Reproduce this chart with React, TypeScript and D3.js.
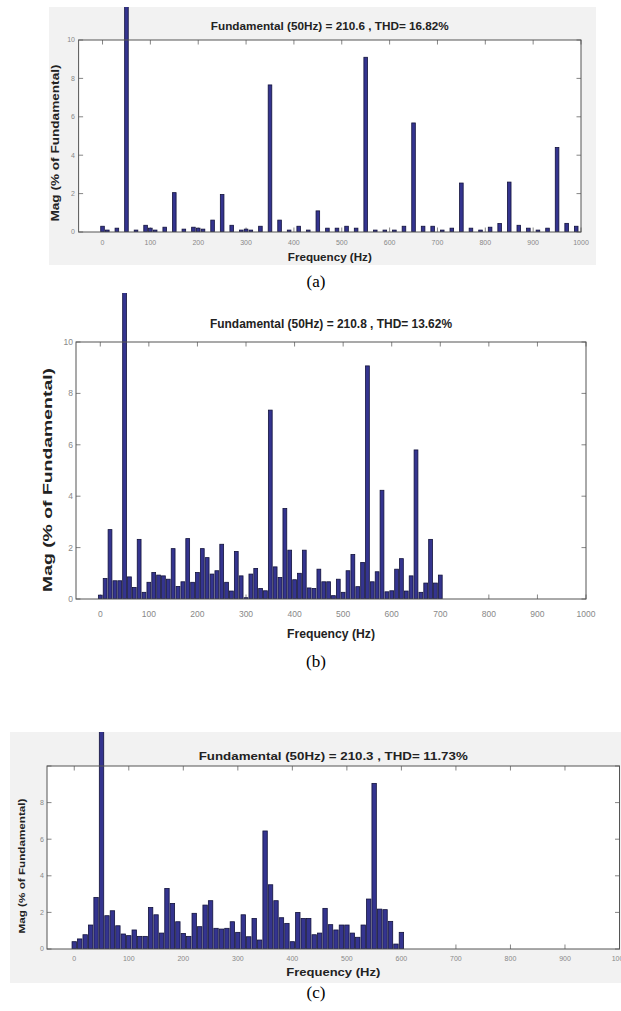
import React from "react";
import * as d3 from "d3";

// (a) sparse spectrum: only the visible 10 Hz bins
const freqA = [0, 10, 30, 50, 70, 90, 100, 110, 130, 150, 170, 190, 200, 210, 230, 250, 270, 290, 300, 310, 330, 350, 370, 390, 410, 430, 450, 470, 490, 510, 530, 550, 570, 590, 610, 630, 650, 670, 690, 710, 730, 750, 770, 790, 810, 830, 850, 870, 890, 910, 930, 950, 970, 990];
const magA = [0.3, 0.1, 0.2, 100, 0.1, 0.35, 0.2, 0.1, 0.25, 2.05, 0.15, 0.25, 0.2, 0.15, 0.62, 1.95, 0.35, 0.1, 0.15, 0.1, 0.3, 7.66, 0.62, 0.1, 0.3, 0.1, 1.1, 0.2, 0.2, 0.3, 0.2, 9.1, 0.1, 0.1, 0.1, 0.3, 5.68, 0.3, 0.3, 0.1, 0.2, 2.55, 0.2, 0.1, 0.25, 0.44, 2.6, 0.35, 0.2, 0.1, 0.2, 4.4, 0.45, 0.3];

// (b) 0..700 Hz, 10 Hz bins
const freqB = d3.range(0, 710, 10);
const magB = [0.15, 0.8, 2.7, 0.71, 0.71, 100, 0.86, 0.45, 2.32, 0.26,
  0.65, 1.03, 0.93, 0.9, 0.77, 1.96, 0.49, 0.67, 2.35, 0.65,
  1.03, 1.96, 1.61, 0.97, 1.1, 2.13, 0.65, 0.31, 1.85, 0.9,
  0.05, 0.97, 1.19, 0.41, 0.32, 7.35, 1.25, 0.84, 3.52, 1.9,
  0.75, 1.0, 1.9, 0.43, 0.41, 1.16, 0.67, 0.67, 0.13, 0.77,
  0.26, 1.1, 1.73, 0.48, 1.42, 9.07, 0.67, 1.06, 4.23, 0.28,
  0.32, 1.16, 1.57, 0.31, 0.9, 5.8, 0.26, 0.62, 2.32, 0.62,
  0.93];

// (c) 0..600 Hz, 10 Hz bins
const freqC = d3.range(0, 610, 10);
const magC = [0.4, 0.55, 0.78, 1.31, 2.82, 100, 1.82, 2.09, 1.27, 0.82,
  0.73, 1.04, 0.69, 0.69, 2.27, 1.87, 0.87, 3.31, 2.49, 1.49,
  0.85, 0.69, 1.95, 1.22, 2.4, 2.64, 1.13, 1.09, 1.13, 1.49,
  0.91, 1.87, 0.67, 1.67, 0.49, 6.45, 3.51, 2.64, 1.71, 1.4,
  0.4, 2.0, 1.67, 1.67, 0.78, 0.87, 2.22, 1.33, 1.04, 1.31,
  1.31, 0.87, 0.64, 1.31, 2.73, 9.05, 2.18, 2.15, 1.51, 0.27,
  0.91];

const xTicks = d3.range(0, 1100, 100);
const yTicks = [0, 2, 4, 6, 8, 10];

const titles = [
  "Fundamental (50Hz) = 210.6 , THD= 16.82%",
  "Fundamental (50Hz) = 210.8 , THD= 13.62%",
  "Fundamental (50Hz) = 210.3 , THD= 11.73%",
];
const captions = ["(a)", "(b)", "(c)"];

const SANS = "'Liberation Sans', Arial, sans-serif";

const panels = [
  {
    id: "a", freq: freqA, mag: magA, title: titles[0], caption: captions[0],
    bg: { x: 49, y: 7, w: 547, h: 258 },
    ax: { l: 78.6, r: 581, t: 40, b: 232 },
    titleY: 30, titleSize: 10, titleLen: 238,
    xlabY: 261, xlabSize: 10.5, xlabLen: 84,
    ylabX: 59, ylabY: 143, ylabSize: 10, ylabLen: 157,
    tickSize: 7, xTickY: 245, yTickX: 75, showTop: true,
    clipTop: 7, capY: 287, bw: 3.6,
  },
  {
    id: "b", freq: freqB, mag: magB, title: titles[1], caption: captions[1],
    bg: null,
    ax: { l: 76, r: 586, t: 342, b: 599 },
    titleY: 328, titleSize: 12.5, titleLen: 242,
    xlabY: 638, xlabSize: 12, xlabLen: 88,
    ylabX: 52, ylabY: 480, ylabSize: 13, ylabLen: 224,
    tickSize: 8.5, xTickY: 617, yTickX: 73, showTop: true,
    clipTop: 293, capY: 667, bw: 3.8,
  },
  {
    id: "c", freq: freqC, mag: magC, title: titles[2], caption: captions[2],
    bg: { x: 10, y: 732, w: 611, h: 251 },
    ax: { l: 47, r: 619.5, t: 766, b: 949 },
    titleY: 760, titleSize: 10, titleLen: 269,
    xlabY: 976, xlabSize: 11, xlabLen: 94,
    ylabX: 25, ylabY: 866, ylabSize: 9, ylabLen: 135,
    tickSize: 7, xTickY: 961, yTickX: 44, showTop: false,
    clipTop: 732, capY: 998, bw: 4.4,
  },
];

function Panel({ p }) {
  const { ax } = p;
  const x = d3.scaleLinear().domain([-50, 1000]).range([ax.l, ax.r]);
  const y = d3.scaleLinear().domain([0, 10]).range([ax.b, ax.t]);
  const cx = (ax.l + ax.r) / 2;
  const tl = 4.5;
  return (
    <g>
      <defs>
        <clipPath id={"clip-" + p.id}>
          <rect x={ax.l} y={p.clipTop} width={ax.r - ax.l} height={ax.b - p.clipTop} />
        </clipPath>
      </defs>
      {p.bg && <rect x={p.bg.x} y={p.bg.y} width={p.bg.w} height={p.bg.h} fill="#f2f2f2" />}
      <rect x={ax.l} y={ax.t} width={ax.r - ax.l} height={ax.b - ax.t} fill="#ffffff" />
      <text x={cx} y={p.titleY} textAnchor="middle" fontFamily={SANS} fontWeight="bold"
        fontSize={p.titleSize} fill="#222" textLength={p.titleLen} lengthAdjust="spacingAndGlyphs">
        {p.title}
      </text>
      {/* ticks */}
      {xTicks.map((t) => (
        <g key={"xt" + t} stroke="#666" strokeWidth={0.8}>
          <line x1={x(t)} x2={x(t)} y1={ax.b} y2={ax.b - tl} />
          <line x1={x(t)} x2={x(t)} y1={ax.t} y2={ax.t + tl} />
        </g>
      ))}
      {yTicks.map((t) => (
        <g key={"yt" + t} stroke="#666" strokeWidth={0.8}>
          <line x1={ax.l} x2={ax.l + tl} y1={y(t)} y2={y(t)} />
          <line x1={ax.r} x2={ax.r - tl} y1={y(t)} y2={y(t)} />
        </g>
      ))}
      {/* bars */}
      <g clipPath={`url(#clip-${p.id})`}>
        {p.freq.map((f, i) => {
          const v = p.mag[i];
          const top = Math.min(y(v), y(0));
          return (
            <rect key={"b" + f} x={x(f) - p.bw / 2} y={top} width={p.bw}
              height={Math.max(y(0) - top, 0.6)}
              fill="#34348f" stroke="#12123c" strokeWidth={0.8} />
          );
        })}
      </g>
      {/* the fundamental bar runs over the top of the axes */}
      <rect x={ax.l} y={ax.t} width={ax.r - ax.l} height={ax.b - ax.t}
        fill="none" stroke="#555" strokeWidth={1} />
      {xTicks.map((t) => (
        <text key={"xl" + t} x={x(t)} y={p.xTickY} textAnchor="middle" fontFamily={SANS}
          fontSize={p.tickSize} fill="#888">{t}</text>
      ))}
      {yTicks.filter((t) => p.showTop || t < 10).map((t) => (
        <text key={"yl" + t} x={p.yTickX} y={y(t) + p.tickSize * 0.35} textAnchor="end"
          fontFamily={SANS} fontSize={p.tickSize} fill="#888">{t}</text>
      ))}
      <text x={cx} y={p.xlabY} textAnchor="middle" fontFamily={SANS} fontWeight="bold"
        fontSize={p.xlabSize} fill="#222" textLength={p.xlabLen} lengthAdjust="spacingAndGlyphs">
        Frequency (Hz)
      </text>
      <text transform={`translate(${p.ylabX},${p.ylabY}) rotate(-90)`} textAnchor="middle"
        fontFamily={SANS} fontWeight="bold" fontSize={p.ylabSize} fill="#222"
        textLength={p.ylabLen} lengthAdjust="spacingAndGlyphs">
        Mag (% of Fundamental)
      </text>
      <text x={316} y={p.capY} textAnchor="middle" fontFamily="'Liberation Serif', 'Times New Roman', serif"
        fontSize={17} fill="#000">{p.caption}</text>
    </g>
  );
}

export default function App() {
  return (
    <svg width={621} height={1011} style={{ position: "absolute", left: 0, top: 0, background: "#fff" }}>
      {panels.map((p) => <Panel key={p.id} p={p} />)}
    </svg>
  );
}
